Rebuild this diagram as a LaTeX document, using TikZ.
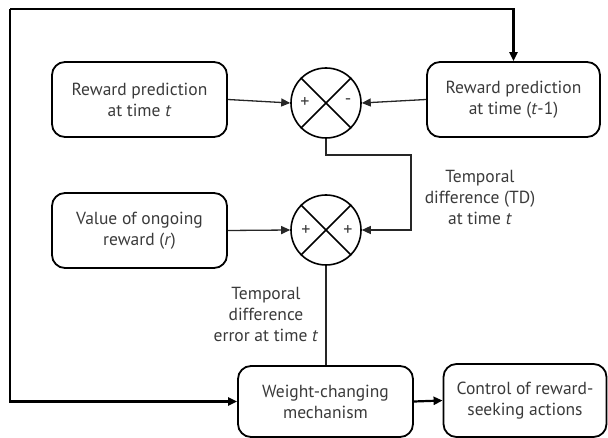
\documentclass[tikz,border=0pt]{standalone}
\usepackage{fontspec}
\setmainfont{PT Sans}
\usetikzlibrary{arrows.meta}
\definecolor{txt}{HTML}{3a3a3a}
\begin{document}
\begin{tikzpicture}[x=1pt,y=-1pt,
  box/.style={draw=black,line width=1.8pt,rounded corners=13pt,inner sep=0pt,
    align=center,text=txt,font=\fontsize{17.5}{21}\selectfont},
  summer/.style={draw=black,line width=1.6pt,circle,minimum size=70pt,inner sep=0pt},
  sign/.style={font=\fontsize{18}{18}\selectfont,text=txt,inner sep=0pt},
  lbl/.style={align=center,text=txt,font=\fontsize{17.5}{21}\selectfont,inner sep=0pt},
  conn/.style={draw=black!85,line width=1.3pt,-{Triangle[length=9pt,width=8pt]}},
  loop/.style={draw=black,line width=2.2pt,-{Triangle[length=9pt,width=8pt]}}]
\useasboundingbox (0,0) rectangle (608,438);
\node[box,minimum width=175pt,minimum height=75pt] (rpt) at (139.5,99.5) {Reward prediction\\at time \textit{t}};
\node[box,minimum width=173pt,minimum height=75pt] (rpt1) at (513.5,99.5) {Reward prediction\\at time (\textit{t}-1)};
\node[box,minimum width=175pt,minimum height=75pt] (val) at (139.5,230.5) {Value of ongoing\\reward (\textit{r})};
\node[box,minimum width=175pt,minimum height=71pt] (wcm) at (325.5,401.5) {Weight-changing\\mechanism};
\node[box,minimum width=163pt,minimum height=73pt] (ctl) at (525,400.5) {Control of reward-\\seeking actions};
\node[summer] (s1) at (326,103) {};
\node[summer] (s2) at (326,230) {};
\foreach \s in {s1,s2}{
  \draw[line width=1.6pt] (\s.45) -- (\s.225);
  \draw[line width=1.6pt] (\s.135) -- (\s.315);
}
\node[sign] (p1) at (305,103) {+};
\node[sign] (m1) at (348,102) {-};
\node[sign] (p2) at (306,231) {+};
\node[sign] (p3) at (348,231) {+};
\node[lbl] (tdl) at (480,197) {Temporal\\difference (TD)\\at time \textit{t}};
\node[lbl] (tel) at (266,314) {Temporal\\difference\\error at time \textit{t}};
\coordinate (corner) at (10,9);
\coordinate (td1) at (326,155);
\coordinate (td2) at (411,155);
\draw[conn] (rpt.east) -- (s1.west);
\draw[conn] (rpt1.west) -- (s1.east);
\draw[conn] (val.east) -- (s2.west);
\draw[conn] (s1.south) -- (td1) -- (td2) |- (s2.east);
\draw[draw=black!85,line width=1.3pt] (s2.south) -- (s2.south |- wcm.north);
\draw[loop] (corner) -| (rpt1.north);
\draw[loop] (corner) |- (wcm.west);
\draw[loop] (wcm.east) -- (ctl.west);
\end{tikzpicture}
\end{document}
